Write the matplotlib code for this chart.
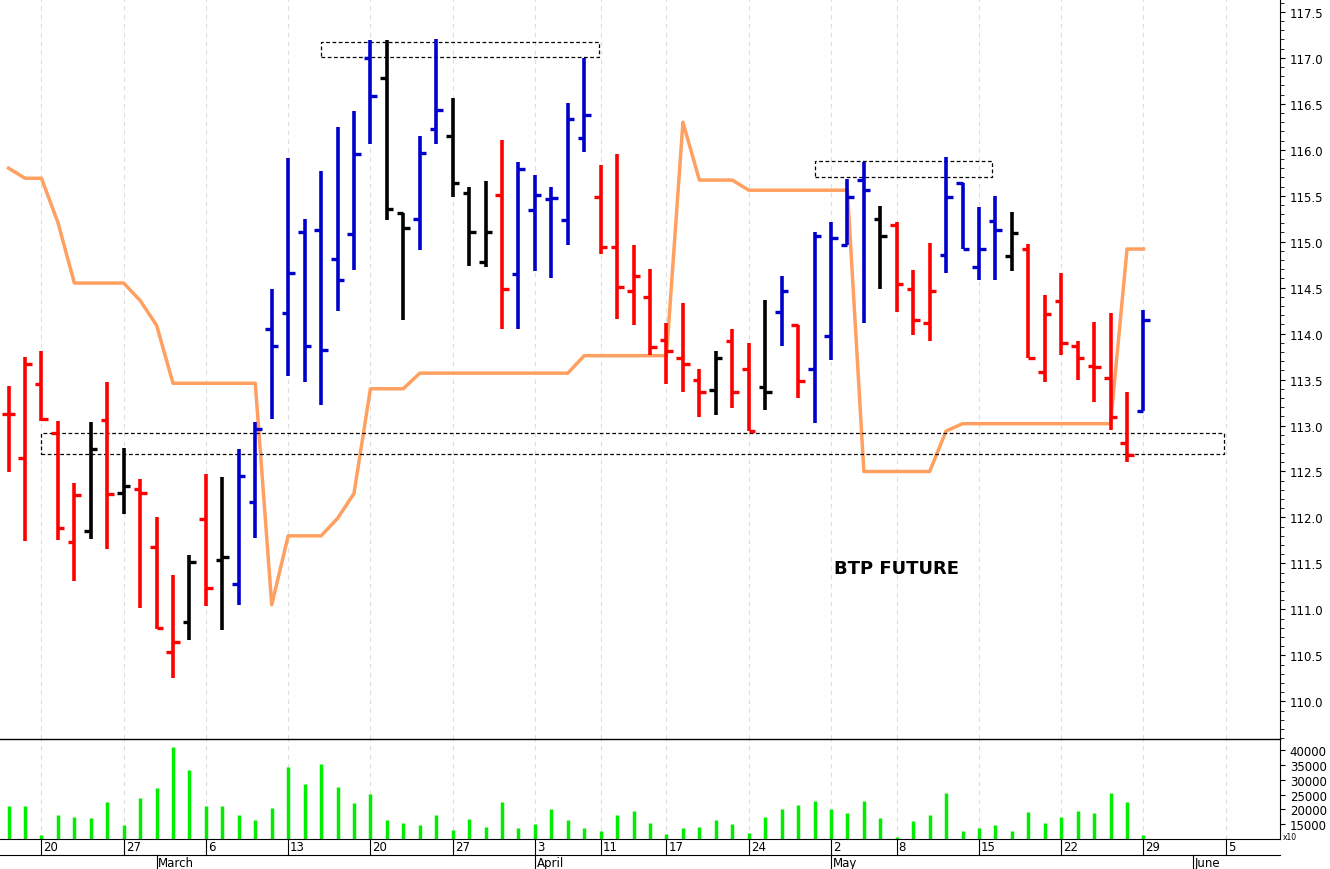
import matplotlib
matplotlib.use("Agg")
import matplotlib.pyplot as plt
import matplotlib.transforms as mtrans
import numpy as np

opens = [113.13,112.65,113.45,112.92,111.73,111.85,113.06,112.27,112.31,111.68,110.54,110.86,111.98,111.54,111.28,112.17,
         114.05,114.22,115.11,115.13,114.81,115.08,117.00,116.78,115.31,115.25,116.23,116.15,115.53,114.78,115.51,114.65,
         115.34,115.46,115.24,116.13,115.49,114.94,114.46,114.40,113.93,113.73,113.50,113.39,113.92,113.61,113.42,114.23,
         114.09,113.62,113.97,114.96,115.67,115.25,115.18,114.48,114.12,114.85,115.64,114.73,115.22,114.84,114.92,113.58,
         114.35,113.86,113.65,113.52,112.81,113.16]
highs = [113.43,113.75,113.81,113.05,112.37,113.04,113.47,112.76,112.42,112.00,111.37,111.59,112.47,112.44,112.75,113.04,
         114.49,115.91,115.25,115.77,116.25,116.42,117.19,117.19,115.31,116.15,117.20,116.56,115.60,115.66,116.11,115.87,
         115.73,115.60,116.51,117.00,115.83,115.95,114.96,114.70,114.12,114.33,113.61,113.81,114.05,113.90,114.37,114.63,
         114.09,115.10,115.21,115.68,115.87,115.39,115.21,114.69,114.99,115.92,115.64,115.38,115.50,115.32,114.97,114.42,
         114.66,113.92,114.13,114.22,113.37,114.26]
lows = [112.49,111.74,113.05,111.75,111.31,111.77,111.66,112.04,111.02,110.79,110.25,110.67,111.04,110.78,111.05,111.78,
        113.07,113.54,113.47,113.22,114.25,114.69,116.06,115.24,114.15,114.91,116.06,115.49,114.74,114.73,114.05,114.05,
        114.68,114.60,114.96,115.98,114.87,114.16,114.09,113.77,113.45,113.37,113.09,113.12,113.19,112.94,113.17,113.86,
        113.30,113.03,113.71,114.96,114.12,114.49,114.23,113.98,113.92,114.66,114.92,114.58,114.58,114.68,113.73,113.47,
        113.77,113.49,113.26,112.95,112.60,113.16]
closes = [113.13,113.67,113.07,111.89,112.24,112.74,112.26,112.34,112.27,110.80,110.65,111.52,111.23,111.57,112.45,112.96,
          113.86,114.66,113.87,113.82,114.58,115.95,116.58,115.36,115.15,115.97,116.43,115.64,115.11,115.10,114.48,115.79,
          115.51,115.47,116.33,116.38,114.94,114.51,114.63,113.85,113.81,113.67,113.36,113.74,113.36,112.94,113.37,114.46,
          113.48,115.06,115.04,115.49,115.56,115.06,114.54,114.15,114.46,115.49,114.92,114.92,115.13,115.09,113.73,114.21,
          113.90,113.74,113.64,113.09,112.68,114.15]
colors = list("RRRRRKRKRRRKRKBB" "BBBBBBBKKBBKKKRB" "BBBBRRRRRRRKRRKB" "RBBBBKRRRBBBBKRR" "RRRRRB")
volume = [21000,21000,11300,18200,17500,17100,22400,14800,23700,27400,41100,33300,21000,21000,18200,16400,
          20500,34200,28500,35300,27600,22000,25200,16400,15300,14800,18100,13100,16700,13900,22400,13600,
          15100,20000,16400,13600,12800,18200,19300,15400,11700,13600,13900,16400,15100,12000,17300,20000,
          21500,23000,20000,18800,23000,17100,10600,16000,18100,25700,12800,13600,14800,12800,19000,15400,
          17300,19300,18800,25400,22400,11500]
stop_line = [115.80,115.69,115.69,115.21,114.55,114.55,114.55,114.55,114.36,114.09,113.46,113.46,113.46,113.46,113.46,113.46,
             111.05,111.80,111.80,111.80,111.99,112.26,113.40,113.40,113.40,113.57,113.57,113.57,113.57,113.57,113.57,113.57,
             113.57,113.57,113.57,113.76,113.76,113.76,113.76,113.76,113.76,116.30,115.67,115.67,115.67,115.56,115.56,115.56,
             115.56,115.56,115.56,115.56,112.50,112.50,112.50,112.50,112.50,112.94,113.02,113.02,113.02,113.02,113.02,113.02,
             113.02,113.02,113.02,113.02,114.92,114.92]
boxes = [(19, 35.9, 117.01, 117.17), (49, 59.8, 115.70, 115.88), (2, 73.9, 112.69, 112.92)]
day_idx = [2, 7, 12, 17, 22, 27, 32, 36, 40, 45, 50, 54, 59, 64, 69, 74]
day_lbl = ["20", "27", "6", "13", "20", "27", "3", "11", "17", "24", "2", "8", "15", "22", "29", "5"]
month_idx = [9, 32, 50, 72]
month_lbl = ["March", "April", "May", "June"]
price_ticks = [110.0, 110.5, 111.0, 111.5, 112.0, 112.5, 113.0, 113.5, 114.0, 114.5, 115.0, 115.5, 116.0, 116.5, 117.0, 117.5]
vol_ticks = [15000, 20000, 25000, 30000, 35000, 40000]

cmap = {"R": "#ff0000", "B": "#0000cc", "K": "#000000"}
fig = plt.figure(figsize=(13.3, 8.7), dpi=100)
ax = fig.add_axes([0, 130/870, 1280/1330, 740/870])
axv = fig.add_axes([0, 30/870, 1280/1330, 100/870], sharex=ax)
x = np.arange(len(opens))
xl = (-0.52, 77.3)
for i in x:
    c = cmap[colors[i]]
    ax.vlines(i, lows[i], highs[i], color=c, lw=2.6)
    ax.hlines(opens[i], i - 0.4, i, color=c, lw=2.4)
    ax.hlines(closes[i], i, i + 0.4, color=c, lw=2.4)
ax.plot(x, stop_line, color="#ffa060", lw=2.5, zorder=1)
for x0, x1, y0, y1 in boxes:
    ax.add_patch(plt.Rectangle((x0, y0), x1 - x0, y1 - y0, fill=False, ls=(0, (3, 2)), lw=0.9, ec="black"))
ax.text(54, 111.45, "BTP FUTURE", fontsize=13, fontweight="bold", ha="center", va="center")
ax.set_xlim(*xl)
ax.set_ylim(109.59, 117.64)
ax.yaxis.tick_right()
ax.set_yticks(price_ticks)
ax.set_yticklabels([f"{t:.1f}" for t in price_ticks], fontsize=8.5)
ax.set_yticks(np.arange(109.6, 117.65, 0.1), minor=True)
ax.tick_params(axis="y", which="minor", length=3)
ax.tick_params(axis="x", bottom=False, labelbottom=False)
for s in ["top", "left", "bottom"]:
    ax.spines[s].set_visible(False)
for d in day_idx:
    ax.axvline(d, color="#dddddd", ls=(0, (4, 4)), lw=0.8, zorder=0)
    axv.axvline(d, color="#dddddd", ls=(0, (4, 4)), lw=0.8, zorder=0)

axv.vlines(x, 0, volume, color="#00ee00", lw=2.5)
axv.set_ylim(10000, 43800)
axv.yaxis.tick_right()
axv.set_yticks(vol_ticks)
axv.set_yticklabels([str(v) for v in vol_ticks], fontsize=8.5)
axv.tick_params(axis="x", bottom=False, labelbottom=False)
axv.spines["left"].set_visible(False)
axv.spines["top"].set_color("black")
axv.spines["top"].set_linewidth(1.0)
axv.text(1.002, -0.02, "x10", transform=axv.transAxes, fontsize=5.5, va="bottom")

tr = mtrans.blended_transform_factory(axv.transData, axv.transAxes)
for d, l in zip(day_idx, day_lbl):
    axv.plot([d, d], [0, -0.16], color="black", lw=0.8, transform=tr, clip_on=False)
    axv.text(d + 0.12, -0.08, l, transform=tr, fontsize=8.5, ha="left", va="center")
axv.plot(xl, [-0.16, -0.16], color="black", lw=0.8, transform=tr, clip_on=False)
for d, l in zip(month_idx, month_lbl):
    axv.plot([d, d], [-0.16, -0.30], color="black", lw=0.8, transform=tr, clip_on=False)
    axv.text(d + 0.1, -0.24, l, transform=tr, fontsize=8.5, ha="left", va="center")
fig.savefig("out.png", dpi=100, facecolor="white")
